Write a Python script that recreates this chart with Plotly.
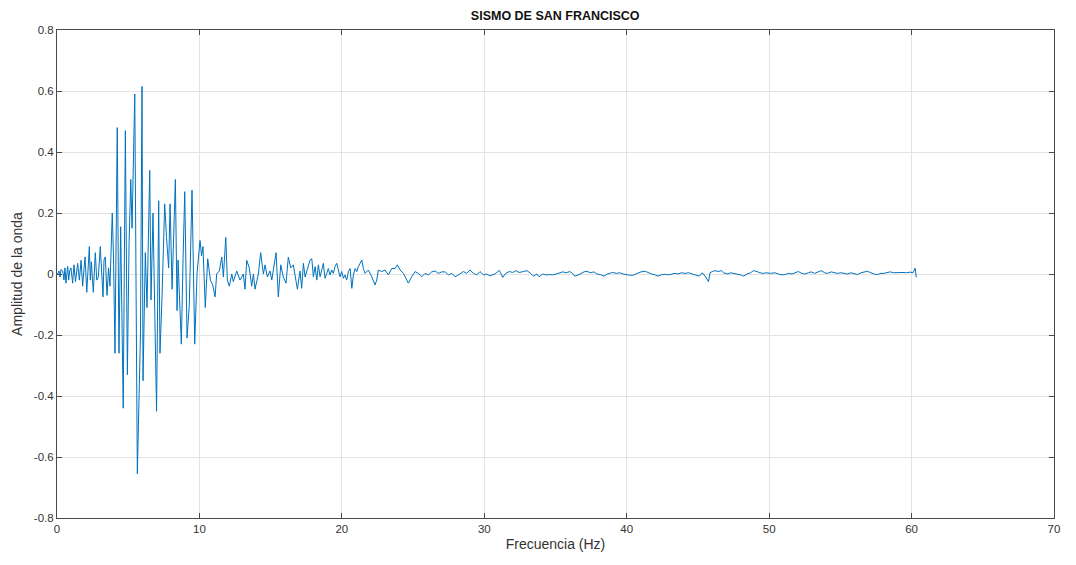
import plotly.graph_objects as go

# 0 - 4 Hz: low-level onset
freq_onset = [0.0, 0.05, 0.14, 0.21, 0.28, 0.40, 0.49, 0.56, 0.63, 0.75, 0.82, 0.89, 0.98,
              1.10, 1.19, 1.30, 1.45, 1.57, 1.69, 1.80, 1.90, 1.97, 2.09, 2.18, 2.27, 2.34,
              2.41, 2.55, 2.69, 2.79, 2.90, 3.04, 3.16, 3.23, 3.30, 3.39, 3.51, 3.62, 3.72,
              3.88, 3.97]
amp_onset = [0.0, 0.0, 0.01, -0.01, 0.015, 0.01, -0.02, 0.02, -0.03, 0.025, -0.02, 0.01, 0.02,
             -0.03, 0.03, -0.025, 0.035, -0.02, 0.045, -0.04, 0.02, 0.056, -0.06, 0.01, 0.09, -0.02,
             0.04, -0.06, 0.07, -0.02, -0.01, 0.09, -0.05, -0.075, 0.046, 0.056, -0.07, 0.02, -0.04,
             0.2, 0.05]

# 4 - 10.6 Hz: strong motion
freq_strong = [4.07, 4.23, 4.35, 4.47, 4.65, 4.80, 4.94, 5.06, 5.18, 5.27, 5.46, 5.64, 5.80,
               5.86, 5.97, 6.04, 6.20, 6.32, 6.51, 6.60, 6.74, 6.88, 6.99, 7.14, 7.23, 7.37,
               7.56, 7.69, 7.84, 7.94, 8.08, 8.31, 8.43, 8.50, 8.59, 8.73, 8.85, 8.97, 9.13,
               9.29, 9.48, 9.67, 9.83, 9.95, 10.04, 10.15, 10.25, 10.41, 10.58]
amp_strong = [-0.26, 0.48, -0.26, 0.155, -0.44, 0.47, -0.33, 0.1, 0.31, 0.15, 0.59, -0.655, -0.28,
              -0.2, 0.615, -0.35, 0.07, -0.11, 0.34, -0.085, 0.2, -0.26, -0.45, 0.24, -0.26, -0.08,
              0.23, 0.12, 0.02, 0.23, -0.05, 0.31, -0.12, 0.046, -0.06, -0.23, 0.05, 0.27, -0.21,
              -0.1, 0.275, -0.23, 0.0, 0.08, 0.11, 0.06, 0.09, -0.11, 0.05]

# 10.6 - 17 Hz: coda
freq_coda = [10.77, 10.93, 11.10, 11.21, 11.40, 11.57, 11.68, 11.85, 11.96, 12.10, 12.27,
             12.38, 12.62, 12.85, 13.08, 13.20, 13.32, 13.50, 13.67, 13.79, 13.90, 14.14,
             14.30, 14.49, 14.61, 14.77, 14.96, 15.08, 15.38, 15.47, 15.54, 15.71, 15.89,
             16.08, 16.24, 16.41, 16.59, 16.88, 17.06]
amp_coda = [-0.02, -0.035, -0.075, 0.0, 0.01, 0.056, -0.01, 0.12, -0.02, -0.04, 0.0,
            -0.025, 0.01, -0.02, 0.0, -0.05, 0.045, 0.02, -0.04, 0.0, -0.05, 0.0,
            0.07, 0.0, 0.03, -0.01, 0.01, -0.02, 0.07, -0.01, -0.075, 0.03, -0.01,
            -0.03, 0.055, 0.02, 0.03, -0.05, 0.01]

# 17 - 30 Hz: decaying tail
freq_tail = [17.18, 17.30, 17.42, 17.65, 17.77, 17.89, 18.00, 18.12, 18.24, 18.35, 18.47,
             18.70, 18.82, 18.94, 19.05, 19.17, 19.29, 19.40, 19.52, 19.64, 19.76, 19.87,
             19.99, 20.11, 20.22, 20.34, 20.46, 20.58, 20.70, 20.81, 20.93, 21.05, 21.16,
             21.40, 21.51, 21.63, 21.86, 22.10, 22.33, 22.45, 22.56, 22.80, 23.03, 23.27,
             23.50, 23.74, 23.90, 24.09, 24.32, 24.56, 24.67, 24.91, 25.14, 25.37, 25.61,
             25.84, 26.08, 26.31, 26.54, 26.78, 27.01, 27.25, 27.48, 27.72, 27.95, 28.18,
             28.53, 28.77, 29.00, 29.24, 29.47, 29.70, 29.94, 30.17]
amp_tail = [-0.047, 0.035, -0.01, 0.024, 0.046, 0.05, -0.009, 0.024, -0.02, 0.03, -0.009,
            0.035, -0.014, 0.002, 0.018, -0.003, 0.013, 0.002, 0.024, 0.035, 0.013, -0.009,
            0.008, -0.014, -0.003, -0.02, 0.008, 0.018, -0.047, -0.003, 0.018, 0.008, 0.024,
            0.046, 0.018, 0.002, 0.013, -0.009, -0.036, -0.02, 0.013, 0.008, 0.013, -0.003,
            0.018, 0.018, 0.03, 0.013, 0.002, -0.02, -0.03, -0.009, 0.008, 0.002, -0.009,
            0.002, -0.003, 0.007, 0.01, 0.002, 0.007, 0.007, -0.003, 0.002, -0.009, -0.003,
            0.008, 0.002, 0.013, 0.002, -0.003, 0.008, -0.003, 0.0]

# 30 - 60 Hz: background noise
freq_noise = [30.40, 30.75, 31.05, 31.30, 31.50, 31.75, 32.00, 32.20, 32.45, 32.75, 33.00,
              33.25, 33.45, 33.70, 33.85, 34.10, 34.35, 34.60, 34.80, 35.05, 35.30, 35.50,
              35.75, 36.00, 36.20, 36.35, 36.60, 36.85, 37.00, 37.20, 37.45, 37.70, 37.90,
              38.15, 38.40, 38.60, 38.85, 39.00, 39.30, 39.50, 39.75, 40.00, 40.20, 40.45,
              40.70, 40.85, 41.00, 41.30, 41.50, 41.75, 42.00, 42.20, 42.45, 42.70, 42.90,
              43.15, 43.40, 43.60, 43.85, 44.10, 44.35, 44.60, 44.90, 45.10, 45.30, 45.55,
              45.74, 45.85, 46.00, 46.20, 46.45, 46.65, 46.80, 47.10, 47.30, 47.55, 47.80,
              48.00, 48.20, 48.45, 48.70, 48.90, 49.15, 49.35, 49.60, 49.80, 50.10, 50.40,
              50.65, 50.90, 51.10, 51.35, 51.60, 51.80, 52.05, 52.30, 52.50, 52.75, 52.95,
              53.20, 53.45, 53.65, 53.90, 54.10, 54.35, 54.60, 54.80, 55.05, 55.30, 55.50,
              55.75, 56.00, 56.20, 56.45, 56.65, 56.90, 57.15, 57.35, 57.60, 57.85, 58.05,
              58.30, 58.50, 58.75, 58.95, 59.20, 59.40, 59.65, 59.90, 60.10, 60.25, 60.33]
amp_noise = [-0.006, 0.0, 0.012, -0.011, 0.002, 0.008, 0.005, 0.011, 0.005, 0.008, 0.011,
             0.002, -0.007, 0.0, -0.009, 0.0, -0.003, -0.002, -0.003, 0.0, 0.004, 0.007,
             0.004, 0.008, 0.002, -0.007, -0.003, 0.004, 0.007, 0.009, 0.004, 0.007, 0.0,
             -0.002, -0.007, -0.001, 0.002, 0.005, 0.002, 0.004, 0.0, -0.003, -0.004, -0.004,
             0.002, 0.005, 0.007, 0.009, 0.004, 0.0, -0.003, -0.007, -0.002, -0.001, -0.003,
             0.0, 0.002, 0.0, 0.004, 0.002, 0.004, 0.0, -0.003, -0.007, 0.004, -0.01,
             -0.025, 0.004, 0.008, 0.011, 0.008, 0.011, 0.004, 0.0, 0.004, 0.002, 0.0,
             -0.003, -0.007, 0.0, 0.004, 0.011, 0.008, 0.004, 0.002, 0.004, 0.002, 0.004,
             0.0, -0.003, -0.002, 0.002, 0.0, 0.004, 0.008, 0.002, 0.0, 0.004, 0.007,
             0.002, 0.008, 0.011, 0.004, 0.002, 0.007, 0.004, 0.002, 0.004, 0.002, 0.0,
             0.004, 0.002, -0.002, 0.004, 0.007, 0.009, 0.004, 0.0, -0.002, 0.002, 0.002,
             0.004, 0.007, 0.004, 0.005, 0.004, 0.005, 0.004, 0.006, 0.004, 0.019, -0.011]

x_ticks = [0, 10, 20, 30, 40, 50, 60, 70]
y_ticks = [-0.8, -0.6, -0.4, -0.2, 0, 0.2, 0.4, 0.6, 0.8]
y_tick_labels = ["-0.8", "-0.6", "-0.4", "-0.2", "0", "0.2", "0.4", "0.6", "0.8"]

freq = freq_onset + freq_strong + freq_coda + freq_tail + freq_noise
amp = amp_onset + amp_strong + amp_coda + amp_tail + amp_noise

LINE = "#0072BD"
AXIS = "#4a4a4a"
TEXT = "#333333"
GRID = "#e3e3e3"
FONT = "Liberation Sans, Arial, sans-serif"

fig = go.Figure(go.Scatter(x=freq, y=amp, mode="lines",
                           line=dict(color=LINE, width=1), hoverinfo="x+y"))

axis_common = dict(showline=True, linecolor=AXIS, linewidth=1, mirror="ticks",
                   ticks="inside", ticklen=5, tickcolor=AXIS,
                   showgrid=True, gridcolor=GRID, gridwidth=1, zeroline=False,
                   tickfont=dict(family=FONT, size=11.5, color=TEXT))

fig.update_xaxes(range=[0, 70], tickvals=x_ticks, ticktext=[str(t) for t in x_ticks],
                 title=dict(text="Frecuencia (Hz)", standoff=5,
                            font=dict(family=FONT, size=14, color=TEXT)),
                 **axis_common)
fig.update_yaxes(range=[-0.8, 0.8], tickvals=y_ticks, ticktext=y_tick_labels,
                 title=dict(text="Amplitud de la onda", standoff=7,
                            font=dict(family=FONT, size=14, color=TEXT)),
                 **axis_common)

fig.update_layout(
    width=1076, height=565,
    margin=dict(l=57, r=22, t=30, b=47),
    paper_bgcolor="white", plot_bgcolor="white",
    showlegend=False,
    title=dict(text="<b>SISMO DE SAN FRANCISCO</b>", x=0.516, xanchor="center",
               y=0.972, yanchor="middle",
               font=dict(family=FONT, size=12.5, color="#111111")),
)

fig.write_html("out.html")
